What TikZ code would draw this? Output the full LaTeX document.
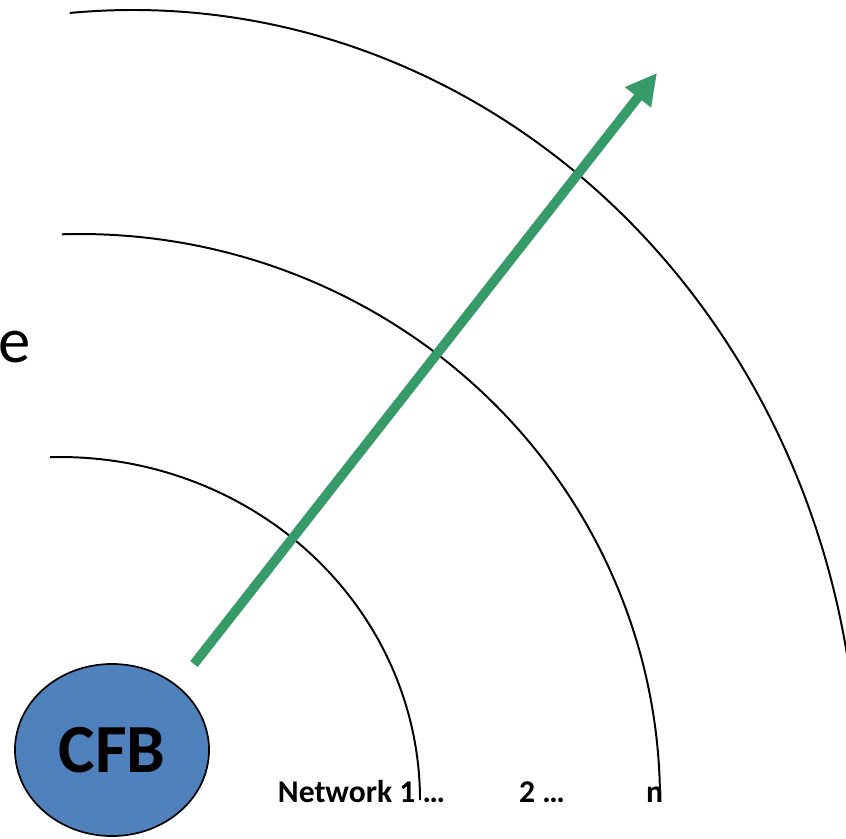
\documentclass[tikz,border=0pt]{standalone}
\usepackage{fontspec}
\setmainfont{Carlito}
\usetikzlibrary{arrows.meta,shapes.geometric}

\begin{document}
\begin{tikzpicture}[x=0.025cm, y=0.025cm,
    ring/.style={line width=1.4pt},
    netlabel/.style={anchor=base, inner sep=0pt, font=\bfseries\fontsize{22.5}{22.5}\selectfont}]

\definecolor{cfbblue}{RGB}{79,129,189}
\definecolor{arrowgreen}{RGB}{54,154,105}
\def\ringend{0}

\useasboundingbox (0,0) rectangle (846,838);
\clip (0,0) rectangle (846,838);

% Netzwerkringe
\draw[ring] (60,38) ++(91.6:360 and 343) arc[start angle=91.6, end angle=\ringend, x radius=360, y radius=343];

\draw[ring] (80,38) ++(91.8:580 and 566) arc[start angle=91.8, end angle=1, x radius=580, y radius=566];

\draw[ring] (133,48) ++(95:725 and 780) arc[start angle=95, end angle=\ringend, x radius=725, y radius=780];

% Knoten
\node[ellipse, draw=black, line width=1.2pt, fill=cfbblue, minimum width=4.85cm, minimum height=4.3cm, inner sep=0pt, font=\bfseries\fontsize{49}{49}\selectfont] (cfb) at (112,88) {CFB};

% Ausbreitungspfeil
\coordinate (rayStart) at (194,174);
\coordinate (rayEnd) at (657,765);
\draw[arrowgreen, line width=6.8pt, -{Triangle[length=22pt, width=22pt]}] (rayStart) -- (rayEnd);

% Beschriftungen
\node[netlabel] (net1) at (361.5,36) {Network 1 …};
\node[netlabel] (net2) at (542,36) {2 …};
\node[netlabel] (netn) at (654.5,36) {n};

\node[anchor=base west, inner sep=0pt, font=\fontsize{46}{46}\selectfont] (cut) at (-2,476) {e};

\end{tikzpicture}
\end{document}
